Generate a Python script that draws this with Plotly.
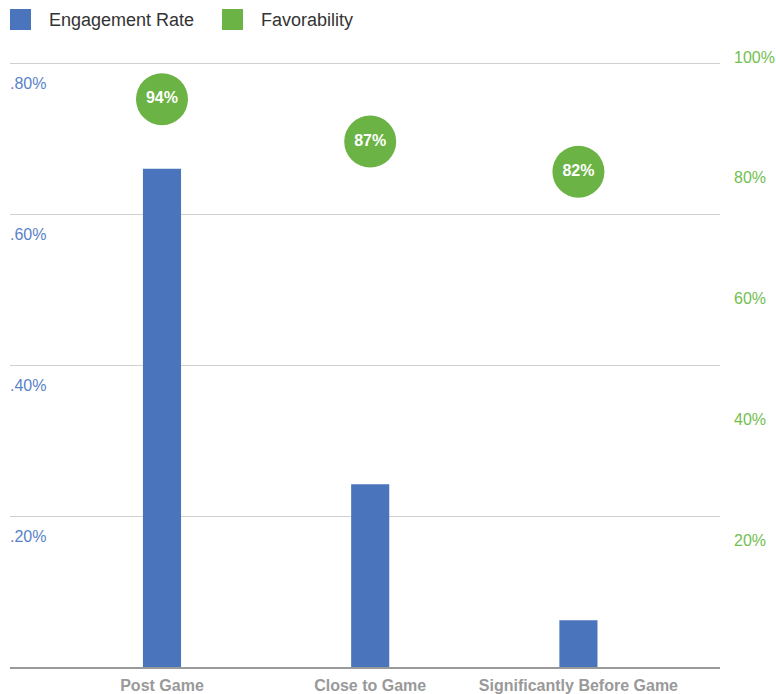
import plotly.graph_objects as go

# Data
categories = ["Post Game", "Close to Game", "Significantly Before Game"]
engagement_rate = [0.66, 0.242, 0.062]          # percent
favorability = [94, 87, 82]                      # percent

left_tick_vals = [0.2, 0.4, 0.6, 0.8]
left_tick_text = [".20%", ".40%", ".60%", ".80%"]
right_tick_vals = [20, 40, 60, 80, 100]
right_tick_text = ["20%", "40%", "60%", "80%", "100%"]

BLUE = "#4a75bc"
GREEN = "#6ab344"
FONT = "Liberation Sans, Arial, sans-serif"

W, H = 776, 694
ML, MR, MT, MB = 10, 56, 51, 27
PW, PH = W - ML - MR, H - MT - MB
# the value axes span 604px; a little headroom above keeps the top label visible
GRID_PX = 604
Y1_TOP = 0.8 * PH / GRID_PX
Y2_TOP = 100 * PH / GRID_PX


def px_x(x):
    return (x - ML) / PW


def px_y(y):
    return (H - MB - y) / PH


fig = go.Figure()

fig.add_trace(go.Bar(
    x=categories, y=engagement_rate, name="Engagement Rate",
    marker=dict(color=BLUE, line=dict(width=0)), width=0.183,
    hoverinfo="x+y",
))

fig.add_trace(go.Scatter(
    x=categories, y=favorability, name="Favorability", yaxis="y2",
    mode="markers+text",
    marker=dict(color=GREEN, size=52, line=dict(width=0)),
    text=[f"{v}%" for v in favorability], textposition="middle center",
    textfont=dict(color="white", size=16, family=FONT, weight="bold"),
    cliponaxis=False,
))

# Legend drawn as swatches + labels
legend_items = [("Engagement Rate", BLUE, 10), ("Favorability", GREEN, 222)]
shapes = []
annotations = []
for label, color, x0 in legend_items:
    shapes.append(dict(type="rect", xref="paper", yref="paper",
                       x0=px_x(x0), x1=px_x(x0 + 21), y0=px_y(30), y1=px_y(9),
                       fillcolor=color, line=dict(width=0)))
    annotations.append(dict(xref="paper", yref="paper", x=px_x(x0 + 37), y=px_y(19.5),
                            text=label, showarrow=False, xanchor="left", yanchor="middle",
                            font=dict(size=18, color="#333333", family=FONT)))

fig.update_layout(
    width=W, height=H,
    margin=dict(l=ML, r=MR, t=MT, b=MB, pad=0, autoexpand=False),
    paper_bgcolor="white", plot_bgcolor="white",
    showlegend=False,
    font=dict(family=FONT),
    shapes=shapes, annotations=annotations,
    xaxis=dict(
        type="category", range=[-0.73, 2.68], automargin=False,
        showgrid=False, ticks="", showline=True, linecolor="#9a9a9a", linewidth=2,
        tickfont=dict(size=16, color="#999999", family=FONT, weight="bold"),
        ticklabelstandoff=3,
    ),
    yaxis=dict(
        range=[0, Y1_TOP], tickvals=left_tick_vals, ticktext=left_tick_text,
        automargin=False,
        showgrid=True, gridcolor="#d0d0d0", gridwidth=1, zeroline=False,
        ticks="", ticklabelposition="inside", ticklabelshift=20,
        ticklabelstandoff=-3,
        tickfont=dict(size=16, color="#5a82c8", family=FONT),
    ),
    yaxis2=dict(
        overlaying="y", side="right", range=[0, Y2_TOP], automargin=False,
        tickvals=right_tick_vals, ticktext=right_tick_text,
        showgrid=False, zeroline=False, ticks="", showline=False,
        ticklabelshift=-6, ticklabelstandoff=13,
        tickfont=dict(size=16, color="#72c050", family=FONT),
    ),
)

fig.write_html("out.html")
